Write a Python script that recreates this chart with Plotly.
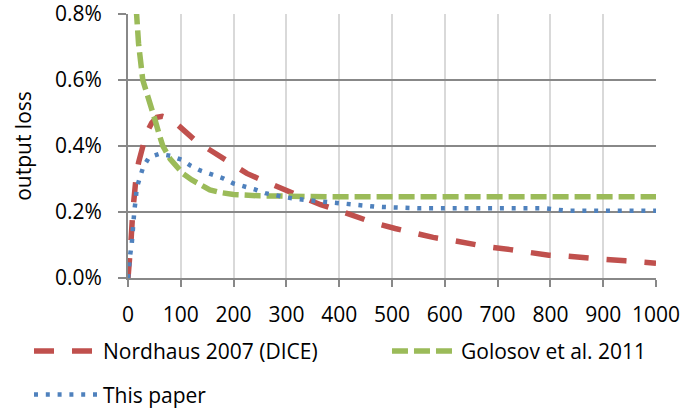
import plotly.graph_objects as go

# Nordhaus 2007 (DICE)
nord_x = [0, 3, 6, 9, 12, 15, 20, 28, 35, 45, 55, 65, 75, 90, 105, 130, 165, 194, 225, 260,
          294, 340, 365, 398, 433, 468, 506, 540, 578, 610, 651, 683, 724, 756, 797, 832,
          871, 905, 942, 980, 1000]
nord_y = [0.0, 0.05, 0.12, 0.20, 0.26, 0.30, 0.35, 0.40, 0.44, 0.47, 0.487, 0.49, 0.485, 0.47,
          0.449, 0.413, 0.378, 0.348, 0.317, 0.292, 0.269, 0.239, 0.222, 0.205, 0.185, 0.166,
          0.150, 0.137, 0.123, 0.115, 0.102, 0.094, 0.086, 0.079, 0.069, 0.066, 0.059, 0.056,
          0.052, 0.046, 0.045]

# Golosov et al. 2011
gol_x = [10, 15, 20, 28, 40, 51, 60, 66, 80, 92, 105, 121, 140, 155, 175, 200, 250, 300, 400,
         600, 800, 1000]
gol_y = [0.95, 0.80, 0.71, 0.60, 0.53, 0.48, 0.43, 0.40, 0.36, 0.337, 0.315, 0.297, 0.28,
         0.267, 0.259, 0.253, 0.249, 0.247, 0.246, 0.246, 0.246, 0.246]

# This paper
own_x = [0, 1, 4, 7, 8, 10, 12, 14.6, 16.5, 22.6, 29, 40, 59, 81, 102, 119, 138, 160, 180,
         199, 219, 239, 260, 280, 301, 322, 343, 364, 405, 450, 470, 550, 790, 830, 1000]
own_y = [0.0, 0.035, 0.069, 0.102, 0.135, 0.17, 0.204, 0.238, 0.272, 0.305, 0.337, 0.366,
         0.376, 0.370, 0.358, 0.340, 0.325, 0.313, 0.302, 0.287, 0.279, 0.269, 0.257, 0.249,
         0.244, 0.239, 0.234, 0.232, 0.226, 0.221, 0.216, 0.211, 0.211, 0.204, 0.204]

FONT = "Open Sans"
FS = 21

fig = go.Figure()
fig.add_trace(go.Scatter(x=nord_x, y=nord_y, mode="lines", name="Nordhaus 2007 (DICE)",
                         line=dict(color="#c0504d", width=5.5, dash="20px,18px"),
                         legend="legend"))
fig.add_trace(go.Scatter(x=gol_x, y=gol_y, mode="lines", name="Golosov et al. 2011",
                         line=dict(color="#9bbb59", width=5.5, dash="16px,6px"),
                         legend="legend2"))
fig.add_trace(go.Scatter(x=own_x, y=own_y, mode="lines", name="This paper",
                         line=dict(color="#4f81bd", width=4.5, dash="4px,7.8px"),
                         legend="legend3"))

leg = dict(orientation="h", xanchor="left", yanchor="middle", itemwidth=64,
           font=dict(family=FONT, size=FS), bgcolor="rgba(0,0,0,0)")
fig.update_layout(
    width=685, height=412,
    margin=dict(l=128, r=29, t=14, b=134, autoexpand=False),
    paper_bgcolor="white", plot_bgcolor="white",
    font=dict(family=FONT, size=FS, color="black"),
    showlegend=True,
    legend=dict(leg, x=-0.1875, y=-0.278),
    legend2=dict(leg, x=0.4905, y=-0.278),
    legend3=dict(leg, x=-0.1875, y=-0.443),
)
fig.update_xaxes(range=[0, 1000], dtick=100, tick0=0, showgrid=True, gridcolor="#d9d9d9",
                 gridwidth=2, showline=True, linecolor="#888888", linewidth=2,
                 ticks="outside", ticklen=7, tickwidth=2, tickcolor="#888888",
                 zeroline=False, ticklabelstandoff=10, ticklabeloverflow="allow")
fig.update_yaxes(range=[0, 0.8], dtick=0.2, tick0=0, tickformat=".1f", ticksuffix="%",
                 showgrid=True, gridcolor="#888888", gridwidth=2, showline=True,
                 linecolor="#888888", linewidth=2, ticks="outside", ticklen=8, tickwidth=2,
                 tickcolor="#888888", zeroline=False, ticklabelstandoff=12,
                 ticklabeloverflow="allow",
                 title=dict(text="output loss", standoff=18, font=dict(size=21)))

fig.write_html("out.html")
